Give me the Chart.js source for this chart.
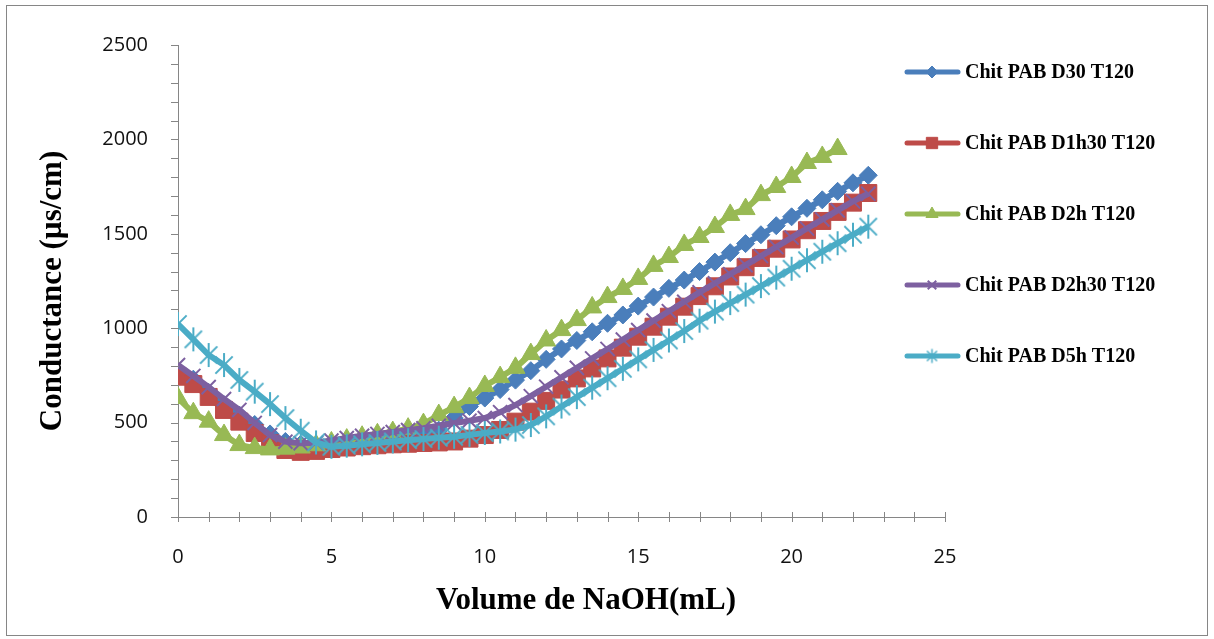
<!DOCTYPE html>
<html>
<head>
<meta charset="utf-8">
<title>Conductance vs NaOH</title>
<script src="https://cdn.jsdelivr.net/npm/chart.js@4.4.0/dist/chart.umd.min.js"></script>
<style>
  html, body { margin: 0; padding: 0; background: #fff; }
  canvas { display: block; }
</style>
</head>
<body>
<canvas id="chart" width="1214" height="639"></canvas>
<script>
// Volume of NaOH added (mL), one reading every 0.5 mL
const volume = [0, 0.5, 1, 1.5, 2, 2.5, 3, 3.5, 4, 4.5, 5, 5.5, 6, 6.5, 7, 7.5, 8, 8.5, 9, 9.5,
  10, 10.5, 11, 11.5, 12, 12.5, 13, 13.5, 14, 14.5, 15, 15.5, 16, 16.5, 17, 17.5, 18, 18.5, 19, 19.5,
  20, 20.5, 21, 21.5, 22, 22.5];

// Conductance readings (µs/cm)
const d30 = [750, 730, 660, 595, 540, 490, 440, 400, 385, 380, 380, 385, 395, 405, 415, 425, 440, 460, 525, 585,
  630, 675, 725, 775, 835, 890, 935, 981, 1026, 1070, 1117, 1165, 1211, 1255, 1300, 1350, 1400, 1448, 1495, 1543,
  1590, 1635, 1680, 1725, 1770, 1810];
const d1h30 = [743, 704, 636, 567, 505, 445, 391, 355, 345, 350, 360, 368, 375, 380, 385, 388, 392, 395, 400, 415,
  434, 461, 505, 558, 615, 675, 734, 787, 840, 897, 955, 1008, 1061, 1114, 1170, 1222, 1274, 1323, 1372, 1421,
  1470, 1519, 1568, 1616, 1665, 1716];
const d2h = [630, 550, 505, 434, 381, 365, 358, 362, 368, 380, 395, 410, 425, 438, 450, 468, 492, 540, 582, 630,
  694, 741, 790, 863, 935, 990, 1043, 1110, 1165, 1208, 1261, 1330, 1377, 1441, 1483, 1536, 1600, 1631, 1705, 1748,
  1801, 1875, 1907, 1949];
const d2h30 = [805, 747, 688, 625, 567, 498, 434, 399, 391, 393, 405, 418, 430, 440, 450, 460, 470, 483, 497, 510,
  524, 555, 593, 640, 690, 740, 790, 840, 890, 940, 990, 1040, 1090, 1140, 1190, 1238, 1286, 1334, 1382, 1430,
  1480, 1528, 1576, 1624, 1672, 1712];
const d5h = [1022, 941, 858, 805, 726, 664, 598, 524, 457, 395, 372, 378, 385, 392, 400, 407, 413, 420, 425, 435,
  445, 453, 463, 487, 533, 585, 635, 685, 735, 785, 835, 885, 935, 985, 1040, 1088, 1133, 1178, 1223, 1268,
  1315, 1360, 1405, 1450, 1495, 1538];

const seriesNames = ['Chit PAB D30 T120', 'Chit PAB D1h30 T120', 'Chit PAB D2h T120', 'Chit PAB D2h30 T120', 'Chit PAB D5h T120'];
const seriesValues = [d30, d1h30, d2h, d2h30, d5h];
const seriesColors = ['#4a7ebb', '#be4b48', '#98b954', '#7d60a0', '#4bacc6'];

const xTicks = [0, 5, 10, 15, 20, 25];
const yTicks = [0, 500, 1000, 1500, 2000, 2500];

// asterisk marker: an X with a vertical bar
function asterisk(color, r, lw) {
  const s = Math.ceil(r * 2 + lw * 2);
  const c = document.createElement('canvas');
  c.width = s; c.height = s;
  const g = c.getContext('2d');
  const m = s / 2, d = r * 0.72;
  g.strokeStyle = color;
  g.lineWidth = lw;
  g.beginPath();
  g.moveTo(m - d, m - d); g.lineTo(m + d, m + d);
  g.moveTo(m + d, m - d); g.lineTo(m - d, m + d);
  g.moveTo(m, m - r); g.lineTo(m, m + r);
  g.stroke();
  return c;
}

const markers = [
  { style: 'rectRot', radius: 9, legendRadius: 6, border: 1 },
  { style: 'rect', radius: 12, legendRadius: 8, border: 1 },
  { style: 'triangle', radius: 11, legendRadius: 7, border: 1 },
  { style: 'crossRot', radius: 10, legendRadius: 6, border: 2 },
  { style: asterisk(seriesColors[4], 12, 2), legend: asterisk(seriesColors[4], 7, 1.5), radius: 12, legendRadius: 7, border: 2 }
];

const datasets = seriesValues.map((vals, i) => ({
  label: seriesNames[i],
  data: vals.map((v, k) => ({ x: volume[k], y: v })),
  borderColor: seriesColors[i],
  backgroundColor: seriesColors[i],
  borderWidth: 6,
  pointStyle: markers[i].style,
  pointRadius: markers[i].radius,
  pointBorderWidth: markers[i].border,
  pointBackgroundColor: seriesColors[i],
  pointBorderColor: seriesColors[i],
  tension: 0,
  order: seriesValues.length - i
}));

const AXIS_GREY = '#868686';

// outer frame, minor/major tick marks, axis titles and the legend
const decorations = {
  id: 'decorations',
  afterDraw(chart) {
    const { ctx, scales: { x, y } } = chart;
    ctx.save();

    ctx.strokeStyle = AXIS_GREY;
    ctx.lineWidth = 1;
    ctx.strokeRect(6.5, 5.5, 1201, 630);

    ctx.beginPath();
    for (let v = 0; v <= 2500; v += 100) {
      const py = Math.round(y.getPixelForValue(v)) + 0.5;
      ctx.moveTo(x.left - 7, py);
      ctx.lineTo(x.left + 1, py);
    }
    for (let v = 0; v <= 25; v += 1) {
      const px = Math.round(x.getPixelForValue(v)) + 0.5;
      ctx.moveTo(px, y.bottom - 5);
      ctx.lineTo(px, y.bottom + 5);
    }
    ctx.stroke();

    ctx.fillStyle = '#000';
    ctx.font = 'bold 31px "Liberation Serif", "Times New Roman", serif';
    ctx.textAlign = 'center';
    ctx.textBaseline = 'middle';
    ctx.fillText('Volume de NaOH(mL)', 586, 601);
    ctx.save();
    ctx.translate(53, 291);
    ctx.rotate(-Math.PI / 2);
    ctx.fillText('Conductance (µs/cm)', 0, 0);
    ctx.restore();

    ctx.font = 'bold 20px "Liberation Serif", "Times New Roman", serif';
    ctx.textAlign = 'left';
    chart.data.datasets.forEach((ds, i) => {
      const ly = 72 + i * 71;
      ctx.strokeStyle = ds.borderColor;
      ctx.lineWidth = 5;
      ctx.lineCap = 'round';
      ctx.beginPath();
      ctx.moveTo(907, ly);
      ctx.lineTo(958, ly);
      ctx.stroke();
      ctx.lineCap = 'butt';
      ctx.fillStyle = ds.borderColor;
      ctx.lineWidth = markers[i].border;
      Chart.helpers.drawPoint(ctx, {
        pointStyle: markers[i].legend || markers[i].style,
        radius: markers[i].legendRadius,
        borderWidth: markers[i].border,
        rotation: 0
      }, 932, ly);
      ctx.fillStyle = '#000';
      ctx.fillText(ds.label, 965, ly + 1);
    });
    ctx.restore();
  }
};

new Chart(document.getElementById('chart'), {
  type: 'line',
  data: { datasets },
  options: {
    responsive: false,
    animation: false,
    devicePixelRatio: 1,
    layout: { padding: { left: 0, top: 45, right: 269, bottom: 0 } },
    plugins: {
      legend: { display: false },
      tooltip: { enabled: false }
    },
    scales: {
      x: {
        type: 'linear',
        min: 0,
        max: 25,
        afterBuildTicks: (s) => { s.ticks = xTicks.map(v => ({ value: v })); },
        afterFit: (s) => { s.height = 122; },
        grid: { display: false },
        border: { display: true, color: AXIS_GREY, width: 1 },
        ticks: {
          color: '#111',
          padding: 20,
          maxRotation: 0,
          callback: (v) => String(v),
          font: { family: '"Open Sans", sans-serif', size: 20 }
        }
      },
      y: {
        min: 0,
        max: 2500,
        afterBuildTicks: (s) => { s.ticks = yTicks.map(v => ({ value: v })); },
        afterFit: (s) => { s.width = 178; },
        grid: { display: false },
        border: { display: true, color: AXIS_GREY, width: 1 },
        ticks: {
          color: '#111',
          padding: 22,
          callback: (v) => String(v),
          font: { family: '"Open Sans", sans-serif', size: 20 }
        }
      }
    }
  },
  plugins: [decorations]
});
</script>
</body>
</html>
